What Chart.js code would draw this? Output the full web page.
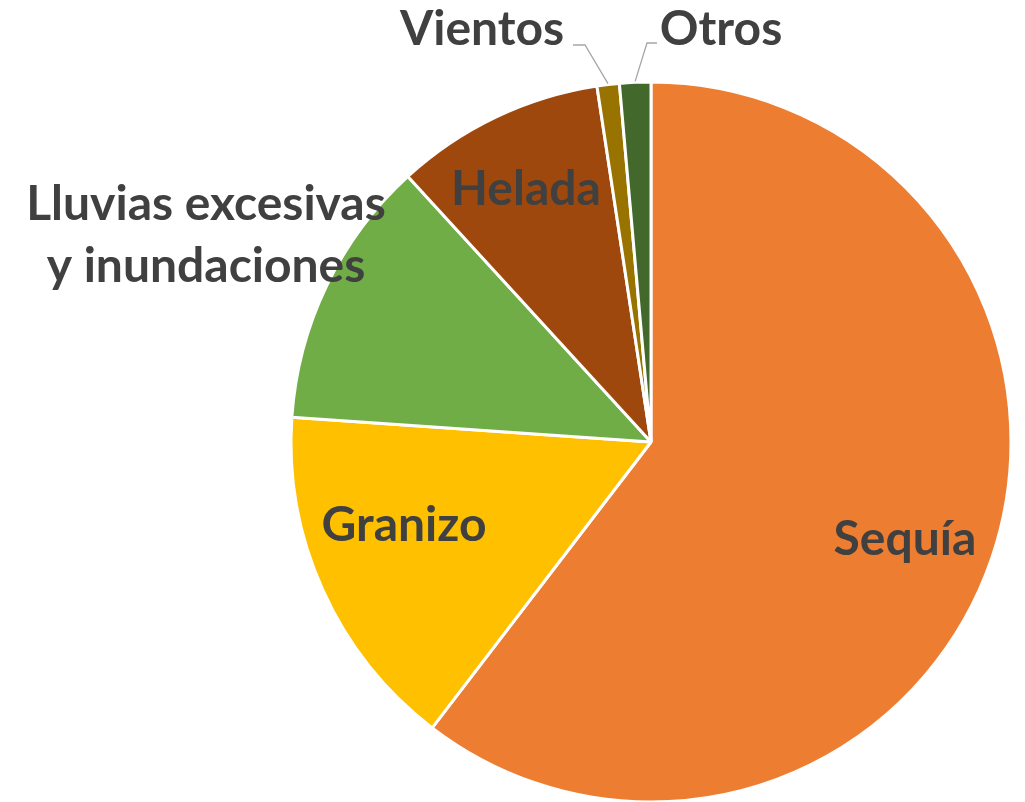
<!DOCTYPE html>
<html>
<head>
<meta charset="utf-8">
<script src="https://cdn.jsdelivr.net/npm/chart.js@4.4.1/dist/chart.umd.min.js"></script>
<style>
  html, body { margin: 0; padding: 0; background: #ffffff; }
  #wrap { width: 1025px; height: 802px; }
</style>
</head>
<body>
<div id="wrap"><canvas id="c" width="1025" height="802"></canvas></div>
<script>
// Distribución de siniestros por causa (%)
const categorias = ['Sequía', 'Granizo', 'Lluvias excesivas y inundaciones', 'Helada', 'Vientos', 'Otros'];
const porcentajes = [60.4, 15.7, 12.1, 9.4, 1.0, 1.4];
const colores = ['#ED7D31', '#FFC000', '#70AD47', '#9E480E', '#997300', '#43682B'];

// Etiquetas: líneas de texto y ubicación (centro del texto, línea base)
const etiquetas = [
  { lines: ['Sequía'], x: 905, y: 555 },
  { lines: ['Granizo'], x: 404, y: 541 },
  { lines: ['Lluvias excesivas', 'y inundaciones'], x: 206, y: 220 },
  { lines: ['Helada'], x: 526, y: 205 },
  { lines: ['Vientos'], x: 482, y: 45, leader: { x0: 573, x1: 585, y: 45 } },
  { lines: ['Otros'], x: 721, y: 45, leader: { x0: 657, x1: 647, y: 43 } }
];

const FONT = 'bold 48px Lato, "Open Sans", sans-serif';
const LINE_H = 62;

const labelPlugin = {
  id: 'sliceLabels',
  afterDatasetsDraw(chart) {
    const ctx = chart.ctx;
    const arcs = chart.getDatasetMeta(0).data;
    ctx.save();
    arcs.forEach((arc, i) => {
      const lab = etiquetas[i];
      if (lab.leader) {
        const p = arc.getProps(['x', 'y', 'startAngle', 'endAngle', 'outerRadius'], true);
        const mid = (p.startAngle + p.endAngle) / 2;
        const ex = p.x + Math.cos(mid) * (p.outerRadius + 1);
        const ey = p.y + Math.sin(mid) * (p.outerRadius + 1);
        ctx.strokeStyle = '#A6A6A6';
        ctx.lineWidth = 1.3;
        ctx.beginPath();
        ctx.moveTo(lab.leader.x0, lab.leader.y);
        ctx.lineTo(lab.leader.x1, lab.leader.y);
        ctx.lineTo(ex, ey);
        ctx.stroke();
      }
      ctx.font = FONT;
      ctx.fillStyle = '#404040';
      ctx.textAlign = 'center';
      ctx.textBaseline = 'alphabetic';
      lab.lines.forEach((t, k) => ctx.fillText(t, lab.x, lab.y + k * LINE_H));
    });
    ctx.restore();
  }
};

new Chart(document.getElementById('c'), {
  type: 'pie',
  data: {
    labels: categorias,
    datasets: [{
      data: porcentajes,
      backgroundColor: colores,
      borderColor: '#ffffff',
      borderWidth: 3
    }]
  },
  options: {
    responsive: false,
    animation: false,
    radius: 360,
    layout: { padding: { left: 291, right: 14, top: 82, bottom: 0 } },
    plugins: {
      legend: { display: false },
      tooltip: { enabled: false }
    }
  },
  plugins: [labelPlugin]
});
</script>
</body>
</html>
